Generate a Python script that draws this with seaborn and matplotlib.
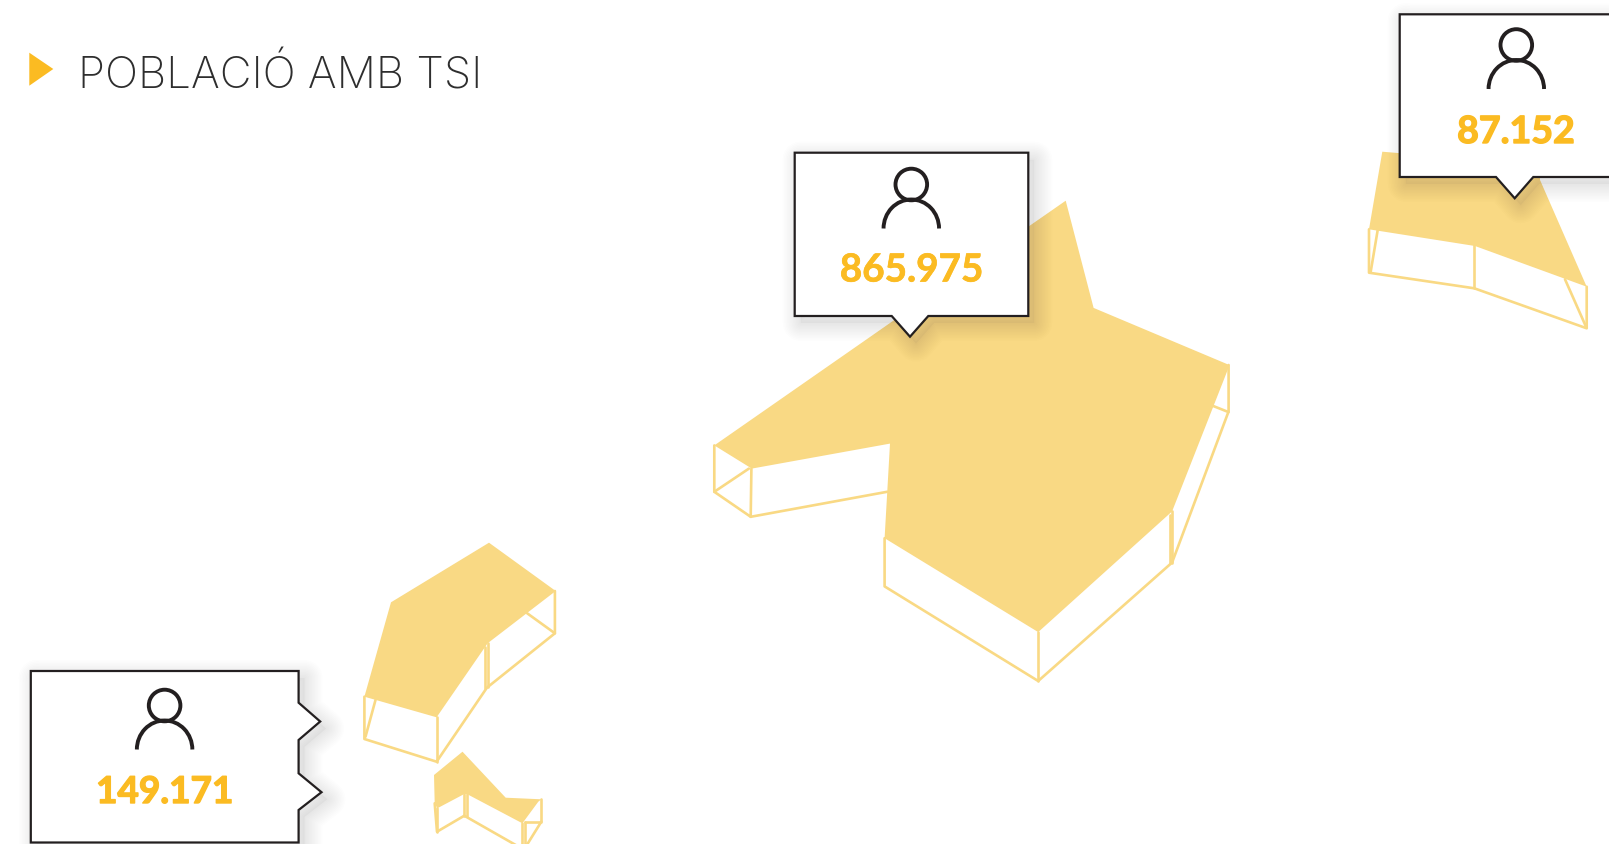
# plot.py - poblacio amb TSI, map blocks with callouts
import numpy as np
import pandas as pd
import matplotlib.pyplot as plt
import matplotlib.patheffects as pe
from matplotlib.patches import Circle, Arc
import seaborn as sns

# Colours
YELLOW = '#F9D984'
ORANGE = '#FBBB22'
DARK = '#231F20'

title = 'POBLACIÓ AMB TSI'
title_marker = [(29.3, 52.7), (53.3, 69), (29.3, 85.7)]

# Map shapes (picture pixels)
main_top = [(714.3, 445.4), (1065.7, 200.7), (1093.6, 307.9), (1229.3, 365), (1227.5, 370.4),
            (1172.1, 511.4), (1038.2, 632.1), (884.6, 538.2), (890, 443.6), (751.8, 468.6)]
main_lines = [
    [(714.3, 445.4), (714.3, 491.8), (750.7, 516.8), (751.4, 468.6)],
    [(714.3, 491.8), (748.9, 468.6)],
    [(750.7, 516.8), (887.1, 491.8)],
    [(884.6, 538.2), (884.6, 586.4), (1038.2, 681), (1172.1, 562.5), (1228.6, 411.4), (1228.6, 365)],
    [(1038.2, 632.1), (1038.2, 681)],
    [(1169.6, 515), (1169.6, 562.5)],
    [(1172.1, 511.4), (1172.1, 562.5)],
    [(1213.2, 406), (1228.6, 412.1)],
]

right_top = [(1382.3, 151.7), (1540, 165), (1540, 180), (1586.7, 286.7), (1475, 246), (1369, 229.3)]
right_lines = [
    [(1369, 229.3), (1369, 272.7), (1474.3, 288.3), (1586.7, 328.3), (1586.7, 286.7)],
    [(1474.3, 245), (1474.3, 288.3)],
    [(1377.7, 230), (1370.7, 271.7)],
    [(1565, 279.3), (1586, 326.7)],
]

left_top = [(489, 542.7), (555.7, 591), (487.6, 643.3), (436.6, 717.3), (364.4, 696.7), (391, 602.3)]
left_lines = [
    [(364.4, 696.7), (364.4, 739), (436.6, 761.7), (486.9, 687.7), (554.9, 633.3), (554.9, 591)],
    [(436.6, 717.3), (436.6, 761.7)],
    [(487.6, 643.3), (487.6, 686.7)],
    [(485.4, 646.7), (485.4, 688)],
    [(375.5, 700), (365.5, 736.7)],
    [(527.2, 613.3), (554.9, 633.3)],
]

small_top = [(462.5, 751.7), (505.7, 797.7), (541.3, 799.3), (538.3, 801.7), (522.4, 823.3),
             (466.9, 794), (464.3, 794), (437.3, 808.3), (434.7, 803.3), (434, 775)]
small_lines = [
    [(434.7, 803.3), (437, 831.7), (464.3, 815.7), (535, 856)],
    [(437.3, 808.3), (437.3, 831.7)],
    [(464.3, 794), (464.3, 815.7)],
    [(466.9, 794), (466.9, 815.7)],
    [(522.4, 823.3), (522.4, 850)],
    [(525.4, 821.7), (525.4, 850)],
    [(525.4, 821.7), (541.3, 821.7), (541.3, 799.3)],
    [(541.3, 821.7), (520, 856)],
]

# Callouts
main_box = [(794.7, 152.7), (1028.3, 152.7), (1028.3, 316), (928.3, 316), (910, 336.7), (891.7, 316), (794.7, 316)]
right_box = [(1399.7, 14.3), (1625, 14.3), (1625, 177), (1533.3, 177), (1514.7, 198.3), (1496, 177), (1399.7, 177)]
left_box = [(30.8, 671), (298.6, 671), (298.6, 702.7), (320.2, 721.5), (298.6, 740), (298.6, 773.3),
            (321.5, 792.2), (298.6, 810), (298.6, 842.5), (30.8, 842.5)]

callout_boxes = [main_box, right_box, left_box]
callout_labels = ['865.975', '87.152', '149.171']
label_pos = [(911.5, 270), (1516, 132), (164.6, 792.5)]
label_sizes = [27.8, 27, 26.6]
label_strokes = [0.5, 1.0, 1.0]
head_pos = [(911.3, 184.5), (1516.3, 45), (164.6, 705.5)]

sns.set_theme(style='white')
plt.rcParams['font.family'] = ['Lato', 'DejaVu Sans']

fig = plt.figure(figsize=(16.09, 8.44), dpi=100)
ax = fig.add_axes([0, 0, 1, 1])


def draw_lines(segments):
    rows = []
    for i, seg in enumerate(segments):
        for x, y in seg:
            rows.append({'seg': i, 'x': x, 'y': y})
    df = pd.DataFrame(rows)
    sns.lineplot(data=df, x='x', y='y', units='seg', estimator=None, sort=False,
                 color=YELLOW, lw=1.9, ax=ax, zorder=2)


def draw_shadow(pts):
    pts = np.array(pts)
    xs = np.append(pts[:, 0], pts[0, 0]) + 6
    ys = np.append(pts[:, 1], pts[0, 1]) + 7
    ax.fill(xs, ys, color='black', alpha=0.03, lw=0, zorder=4)
    for w in range(3, 39, 3):
        ax.plot(xs, ys, color='black', alpha=0.008, lw=w * 0.72, zorder=4, solid_joinstyle='round')


for top, lines in [(main_top, main_lines), (right_top, right_lines),
                   (left_top, left_lines), (small_top, small_lines)]:
    pts = np.array(top)
    ax.fill(pts[:, 0], pts[:, 1], color=YELLOW, lw=0, zorder=1)
    draw_lines(lines)

for box, label, lpos, size, stroke, head in zip(callout_boxes, callout_labels, label_pos,
                                                label_sizes, label_strokes, head_pos):
    draw_shadow(box)
    pts = np.array(box)
    ax.fill(pts[:, 0], pts[:, 1], facecolor='white', edgecolor=DARK, lw=1.6, zorder=5,
            joinstyle='miter')
    # person icon
    ax.add_patch(Circle(head, 15.8, fill=False, edgecolor=DARK, lw=2.8, zorder=6))
    ax.add_patch(Arc((head[0], 44 + head[1]), 55.5, 58, theta1=180, theta2=360,
                     edgecolor=DARK, lw=2.8, zorder=6))
    ax.text(lpos[0], lpos[1], label, color=ORANGE, fontsize=size, fontweight='bold',
            ha='center', va='center', zorder=6,
            path_effects=[pe.withStroke(linewidth=stroke, foreground=ORANGE)])

# Title
mk = np.array(title_marker)
ax.fill(mk[:, 0], mk[:, 1], color=ORANGE, lw=0, zorder=3)
ax.text(78, 88.5, title, color='#2E2E2E', fontsize=31.5, fontfamily='Inter', fontweight='light',
        ha='left', va='baseline', zorder=3)

ax.set_xlim(0, 1609)
ax.set_ylim(844, 0)
ax.set(xlabel='', ylabel='')
ax.axis('off')

fig.savefig('out.png', dpi=100, facecolor='white')
